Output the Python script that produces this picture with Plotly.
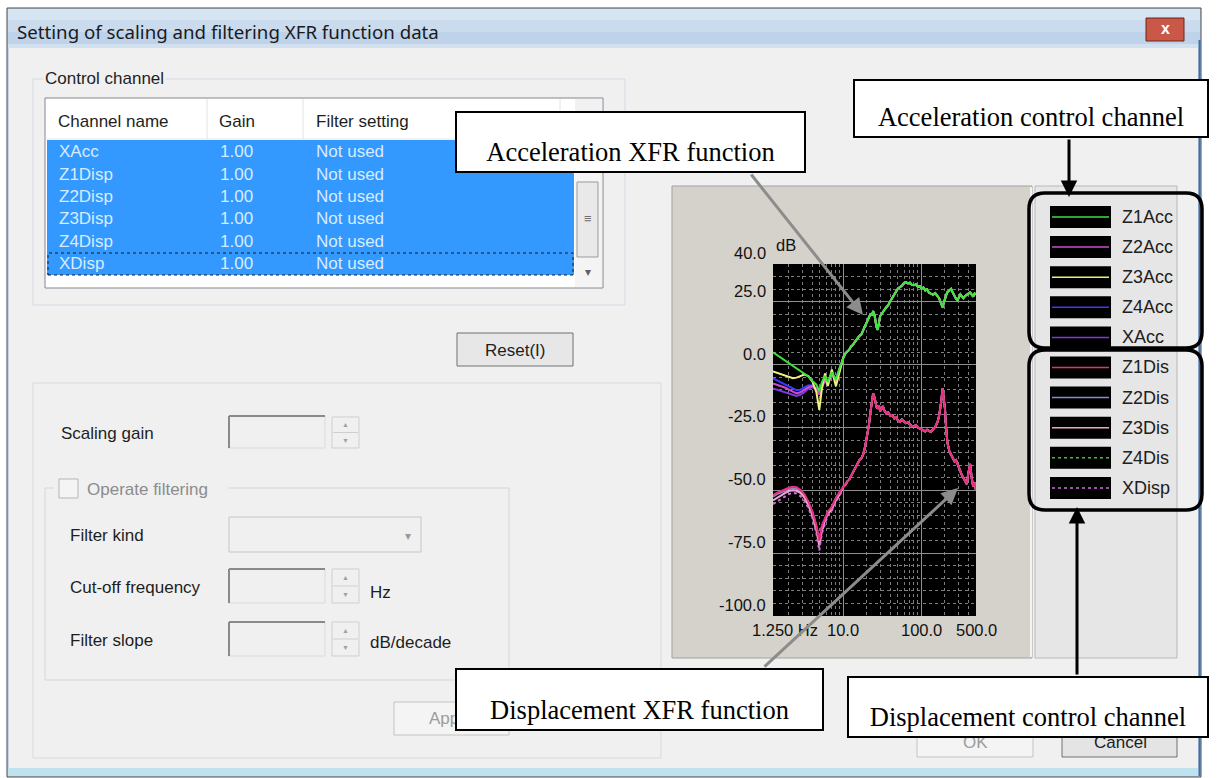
import math
import plotly.graph_objects as go

W, H = 1225, 778
UI = "Liberation Sans"
SERIF = "Liberation Serif"

# ---- curves (Hz, dB) ----
freq_low = [1.25, 1.4, 1.6, 1.8, 2.0, 2.25, 2.5, 2.8, 3.15, 3.55, 4.0, 4.5, 4.9, 5.3, 5.8, 6.3, 7.1, 8.0, 9.0]
freq_high = [10, 10.6, 11.2, 11.8, 12.5, 13.2, 14, 15, 16, 17, 18, 19, 20, 21.2, 22.4, 23.2, 24, 25, 25.5, 26.5,
             27.5, 28.5, 29.5, 31, 32, 33.5, 35.5, 37.5, 40, 42.5, 45, 47.5, 50, 53, 56, 60, 63, 67, 71, 75,
             80, 85, 90, 95, 100, 106, 112, 118, 125, 132, 140, 150, 160, 168, 175, 181, 187, 193, 200, 207,
             215, 228, 240, 252, 265, 277, 290, 302, 315, 330, 345, 362, 380, 400, 420, 440, 460, 480, 500]

z1acc_freq_low = [1.25, 3.55, 4.0, 4.5, 4.9, 5.3, 5.8, 6.3, 7.1, 8.0, 9.0]
z1acc_low = [4.9, -4.7, -6.5, -8, -10.5, -7, -4.5, -7, -3, -6, -1]
z2acc_low = [-7.5, -8, -8.6, -9.2, -10, -10.8, -11.5, -11, -10, -9, -8.5, -9.5, -12, -9, -6.5, -8, -4, -6.5, -1.5]
z3acc_low = [-2.7, -3.2, -3.9, -4.5, -5, -5.4, -5.2, -4.6, -4, -4.6, -6.8, -11, -18, -9.5, -3.5, -8.5, -2, -8.6, -2]
z4acc_low = [-5.5, -6.3, -7.2, -8, -8.8, -9.6, -10.2, -10, -9.2, -8.2, -8.4, -9.5, -10.5, -8, -6, -7.5, -4, -5.5, -1.5]
xacc_low = [-9.5, -10, -10.5, -11, -11.5, -12, -12.5, -12, -11, -9.5, -9, -10, -11.5, -8.5, -6, -8, -3.5, -6, -1]
acc_high = [3, 4.5, 5.3, 5.8, 7.2, 7.8, 9, 10.5, 11.4, 12, 13.5, 15.5, 17, 18.5, 20.3, 19.5, 21.3, 19.8, 17.5, 15,
            13.8, 16.5, 19.3, 20.2, 21, 21.8, 22.8, 23.6, 25.3, 26.8, 28.3, 29.5, 30.3, 30.8, 31.3, 32.5, 32.8, 32.3, 32.6, 31.8,
            31.6, 31.9, 30.9, 31.2, 30.2, 30.6, 29.5, 29.9, 28.6, 28.2, 27.8, 28.4, 27.2, 26.4, 25, 23.5, 22.8, 24.5, 26.6, 27.5,
            28.8, 29.4, 30.1, 28.6, 27.2, 26.2, 25.6, 26.9, 27.9, 27, 26.4, 27.3, 27.6, 28.2, 28.7, 27.5, 27, 28.3, 27.9]

z1disp_low = [-52, -51, -50.3, -49.6, -49, -48.6, -48.8, -49.8, -51.5, -54.5, -58.5, -64, -70, -64, -61, -58.5, -56.5, -53, -50.5]
z2disp_low = [-52.5, -51.5, -50.8, -50, -49.5, -49.2, -49.4, -50.4, -52, -55, -59, -64.5, -70.5, -64.5, -61.5, -59, -57, -53.5, -51]
z3disp_low = [-54, -53, -52, -51, -50.3, -50, -50.2, -51, -52.8, -56, -60, -66, -72, -66, -62, -59.5, -57.5, -54, -51.5]
z4disp_low = [-52.2, -51.2, -50.5, -49.8, -49.2, -48.8, -49, -50, -51.7, -54.7, -58.7, -64.2, -70.2, -64.2, -61.2, -58.7, -56.7, -53.2, -50.7]
xdisp_low = [-55.5, -54.5, -53.5, -52.5, -51.5, -51, -51.3, -52.3, -54, -57, -61, -67, -74, -67, -63, -60, -58, -54.5, -52]
disp_high = [-48.5, -47.8, -46.5, -45.9, -44.5, -43.2, -41.5, -40, -38, -37.2, -35.5, -32.5, -29, -24, -18, -14.5, -11.5, -13, -14.5, -16.8,
             -17.5, -16.2, -18.5, -17.6, -16.5, -18.3, -19.5, -19, -20.5, -20.2, -21.5, -21, -22.3, -22.8, -21.8, -22.9, -23.3, -23, -23.8, -24.4,
             -24.6, -24.1, -25, -25.4, -25.6, -26.2, -26.6, -25.9, -26.2, -26.8, -25.8, -24.8, -23, -20.5, -17, -13, -9.5, -13.5, -17.5, -25,
             -31, -34.5, -36, -37.2, -38.5, -38, -39.5, -41.5, -42.5, -44, -45, -46.5, -47.5, -43, -39.5, -45, -48.5, -47, -50]

channels = ["Z1Acc", "Z2Acc", "Z3Acc", "Z4Acc", "XAcc", "Z1Disp", "Z2Disp", "Z3Disp", "Z4Disp", "XDisp"]
colors = ["#3ee23e", "#d04ad0", "#f0f07a", "#3a3aff", "#7a3ae0", "#e8307a", "#8a8ad8", "#f0a8c8", "#40c040", "#d070e0"]
dashes = ["solid"] * 8 + ["dot", "dot"]
curves = {
    "Z1Acc": (z1acc_freq_low + freq_high, z1acc_low + acc_high),
    "Z2Acc": (freq_low + freq_high, z2acc_low + acc_high),
    "Z3Acc": (freq_low + freq_high, z3acc_low + acc_high),
    "Z4Acc": (freq_low + freq_high, z4acc_low + acc_high),
    "XAcc": (freq_low + freq_high, xacc_low + acc_high),
    "Z1Disp": (freq_low + freq_high, z1disp_low + disp_high),
    "Z2Disp": (freq_low + freq_high, z2disp_low + disp_high),
    "Z3Disp": (freq_low + freq_high, z3disp_low + disp_high),
    "Z4Disp": (freq_low + freq_high, z4disp_low + disp_high),
    "XDisp": (freq_low + freq_high, xdisp_low + disp_high),
}
draw_order = ["Z4Acc", "XAcc", "Z2Acc", "Z3Acc", "Z1Acc", "Z4Disp", "Z2Disp", "Z3Disp", "XDisp", "Z1Disp"]

y_ticks = [40, 25, 0, -25, -50, -75, -100]
x_ticks = [1.25, 10, 100, 500]
x_tick_text = ["1.250 Hz", "10.0", "100.0", "500.0"]
x_minor = [2, 3, 4, 5, 6, 7, 8, 9, 20, 30, 40, 50, 60, 70, 80, 90, 200, 300, 400]

list_rows = ["XAcc", "Z1Disp", "Z2Disp", "Z3Disp", "Z4Disp", "XDisp"]
list_gain = ["1.00"] * 6
list_filter = ["Not used"] * 6


def px(x):
    return x / W


def py(y):
    return 1 - y / H


shapes = []
annos = []


def rect(x0, y0, x1, y1, fill=None, line=None, lw=1, dash=None, layer="below"):
    d = dict(type="rect", xref="paper", yref="paper", x0=px(x0), x1=px(x1), y0=py(y1), y1=py(y0),
             layer=layer, line=dict(width=lw if line else 0, color=line or "rgba(0,0,0,0)"))
    if dash:
        d["line"]["dash"] = dash
    if fill:
        d["fillcolor"] = fill
    shapes.append(d)


def seg(x0, y0, x1, y1, color, lw=1, dash=None, layer="below"):
    d = dict(type="line", xref="paper", yref="paper", x0=px(x0), x1=px(x1), y0=py(y0), y1=py(y1),
             layer=layer, line=dict(color=color, width=lw))
    if dash:
        d["line"]["dash"] = dash
    shapes.append(d)


def rrect(x0, y0, x1, y1, r, color, lw):
    Y0, Y1 = py(y0), py(y1)
    rx, ry = r / W, r / H
    X0, X1 = px(x0), px(x1)
    path = (f"M {X0 + rx},{Y0} L {X1 - rx},{Y0} Q {X1},{Y0} {X1},{Y0 - ry} L {X1},{Y1 + ry} "
            f"Q {X1},{Y1} {X1 - rx},{Y1} L {X0 + rx},{Y1} Q {X0},{Y1} {X0},{Y1 + ry} "
            f"L {X0},{Y0 - ry} Q {X0},{Y0} {X0 + rx},{Y0} Z")
    shapes.append(dict(type="path", xref="paper", yref="paper", path=path, layer="above",
                       line=dict(color=color, width=lw)))


def text(x, y, s, size=17, color="#1e1e1e", anchor="left", family=UI, **kw):
    annos.append(dict(xref="paper", yref="paper", x=px(x), y=py(y), text=s, showarrow=False,
                      xanchor=anchor, yanchor="middle", font=dict(family=family, size=size, color=color), **kw))


def sunken_box(x0, y0, x1, y1):
    rect(x0, y0, x1, y1, fill="#f0f0f0", line="#dadada")
    seg(x0, y0, x1, y0, "#8a8a8a", 2)
    seg(x0, y0, x0, y1, "#8a8a8a", 2)


def spinner(x0, y0, x1, y1):
    rect(x0, y0, x1, y1, fill="#f0f0f0", line="#cfcfcf")
    ym = (y0 + y1) / 2
    seg(x0 + 1, ym, x1 - 1, ym, "#cfcfcf")
    text((x0 + x1) / 2, (y0 + ym) / 2, "▲", size=7, color="#a0a0a0", anchor="center")
    text((x0 + x1) / 2, (ym + y1) / 2, "▼", size=7, color="#a0a0a0", anchor="center")


# ---- window chrome ----
rect(7, 8, 1201, 777, fill="#c4d5ea", line="#4a4a4a")
for (a, b, c) in [(9, 20, "#d7e4f2"), (20, 32, "#cadbee"), (32, 44, "#bed2ea"), (44, 48, "#d3e0f0")]:
    rect(8, a, 1200, b, fill=c)
rect(9, 48, 1198, 768, fill="#f0f0f0")
rect(8, 768, 1199, 776, fill="#bfe3ee")
seg(1199.5, 40, 1199.5, 776, "#3f6fa8", 2)
text(15, 32, "Setting of scaling and filtering XFR function data", size=18.7, family="Noto Sans", color="#1a1a1a")
rect(1146, 18, 1184, 41, fill="#c95848", line="#6e2418")
text(1165, 29, "<b>x</b>", size=16, color="white", anchor="center")

# ---- control channel group ----
rect(33, 79, 625, 305, line="#d3dbe2")
text(43, 78, "Control channel", bgcolor="#f0f0f0")
rect(45, 98, 603, 288, fill="white", line="#828790")
seg(46, 139, 575, 139, "#e5e5e5")
for xs in [207, 303, 560]:
    seg(xs, 99, xs, 139, "#e2e2e2")
rect(575, 99, 602, 139, fill="#f1f1f1")
text(56, 121, "Channel name")
text(217, 121, "Gain")
text(314, 121, "Filter setting")
rect(47, 140, 574, 275, fill="#3399ff")
rect(48, 253, 573, 275, line="#1a1a1a", lw=1, dash="dot")
for i, name in enumerate(list_rows):
    yy = 152 + i * 22.3
    text(57, yy, name, color="#d8ecff")
    text(218, yy, list_gain[i], color="#d8ecff")
    text(314, yy, list_filter[i], color="#d8ecff")
rect(575, 140, 602, 287, fill="#f4f4f4")
rect(577, 182, 598, 257, fill="#e9e9e9", line="#9b9b9b")
text(587.5, 219, "≡", size=13, color="#707070", anchor="center")
text(588, 272, "▾", size=12, color="#606060", anchor="center")

rect(457, 333, 573, 366, fill="#e7e7e7", line="#707070")
text(515, 350, "Reset(I)", anchor="center")

# ---- lower settings panel ----
rect(33, 383, 661, 758, line="#d9d9d9")
text(59, 433, "Scaling gain")
sunken_box(229, 416, 325, 448)
spinner(332, 417, 359, 448)

rect(45, 488, 509, 680, line="#d6d6d6")
rect(54, 482, 228, 494, fill="#f0f0f0")
rect(59, 479, 78, 498, fill="#f4f4f4", line="#b5b5b5")
text(85, 489, "Operate filtering", color="#8c8c8c")
text(68, 535, "Filter kind")
rect(229, 517, 421, 552, fill="#f0f0f0", line="#c6c6c6")
text(408, 536, "▾", size=12, color="#9a9a9a", anchor="center")
text(68, 587, "Cut-off frequency")
sunken_box(229, 569, 325, 603)
spinner(332, 569, 359, 603)
text(368, 592, "Hz")
text(68, 640, "Filter slope")
sunken_box(229, 622, 325, 656)
spinner(332, 622, 359, 656)
text(368, 642, "dB/decade")

rect(394, 702, 509, 735, fill="#f4f4f4", line="#c3c3c3")
text(451, 718, "Apply", color="#9c9c9c", anchor="center")
rect(917, 727, 1033, 757, fill="#f4f4f4", line="#c3c3c3")
text(975, 742, "OK", color="#9c9c9c", anchor="center")
rect(1062, 727, 1177, 757, fill="#e4e4e4", line="#707070")
text(1120, 742, "Cancel", anchor="center")

# ---- chart panel and legend panel ----
rect(672, 186, 1032, 658, fill="#d5d2cb", line="#a2a2a2")
seg(1031, 187, 1031, 657, "#f4f4f4", 2)
rect(1035, 186, 1177, 658, fill="#e6e6e6", line="#b9b9b9")
shapes.append(dict(type="rect", xref="x domain", yref="y domain", x0=0, x1=1, y0=0, y1=1,
                   fillcolor="black", line=dict(width=0), layer="below"))

for i, name in enumerate(channels):
    cy = 217 + i * 30.1
    rect(1050, cy - 11, 1111, cy + 11, fill="black")
    seg(1052, cy, 1109, cy, colors[i], 1.5, dash=dashes[i])
    text(1120, cy, name[:5], size=18, color="#202020")
rrect(1029, 193, 1202, 348, 16, "black", 3.5)
rrect(1029, 350, 1202, 510, 16, "black", 3.5)

fig = go.Figure()
for name in draw_order:
    i = channels.index(name)
    f, v = curves[name]
    # displacement channels ride on the overlaid axis (same scale) that carries the decade grid
    xa = "x2" if "Disp" in name else "x"
    fig.add_trace(go.Scatter(x=f, y=v, mode="lines", name=name, hoverinfo="skip", showlegend=False,
                             xaxis=xa, yaxis="y",
                             line=dict(color=colors[i], width=2, dash=dashes[i])))

# axis labels drawn like the instrument software (above gridlines)
for v in y_ticks:
    annos.append(dict(xref="x domain", yref="y", x=0, y=v, text=f"{v:.1f}", showarrow=False,
                      xanchor="right", yanchor="bottom", xshift=-5,
                      font=dict(family=UI, size=16.5, color="#111")))
annos.append(dict(xref="x domain", yref="y", x=0, y=40, text="dB", showarrow=False, xanchor="left",
                  yanchor="bottom", xshift=1, yshift=8, font=dict(family=UI, size=16.5, color="#111")))
for v, t in zip(x_ticks, x_tick_text):
    annos.append(dict(xref="x", yref="y domain", x=math.log10(v), y=0, text=t, showarrow=False,
                      xanchor="left" if v == x_ticks[0] else "center", xshift=-23 if v == x_ticks[0] else 0,
                      yanchor="top", yshift=-3, font=dict(family=UI, size=16.5, color="#111")))

# ---- callouts ----
def arrow(x0, y0, x1, y1, color):
    # tail at (x0, y0), head at (x1, y1), in page pixels
    annos.append(dict(xref="paper", yref="paper", axref="pixel", ayref="pixel", x=px(x1), y=py(y1),
                      ax=x0 - x1, ay=y0 - y1, text="", showarrow=True, arrowhead=2, arrowsize=1.1,
                      arrowwidth=3, arrowcolor=color, standoff=0, startstandoff=0))


def callout(x0, y0, x1, y1, s):
    annos.append(dict(xref="paper", yref="paper", x=px((x0 + x1) / 2), y=py((y0 + y1) / 2), text=s,
                      showarrow=False, xanchor="center", yanchor="middle", width=x1 - x0 - 12,
                      height=y1 - y0 - 12, valign="bottom", bgcolor="white", bordercolor="black",
                      borderwidth=2, borderpad=4, font=dict(family=SERIF, size=26.5, color="black")))


arrow(750, 173, 863, 315, "#8c8c8c")
arrow(763, 668, 958, 488, "#8c8c8c")
arrow(1069, 138, 1069, 197, "black")
arrow(1077, 676, 1077, 507, "black")
callout(455, 111, 806, 173, "Acceleration XFR function")
callout(853, 79, 1209, 138, "Acceleration control channel")
callout(455, 668, 824, 731, "Displacement XFR function")
callout(847, 676, 1209, 738, "Displacement control channel")

xrange = [math.log10(1.25), math.log10(500)]
xdom = [px(773), px(976)]
fig.update_layout(
    width=W, height=H, autosize=False, margin=dict(l=0, r=0, t=0, b=0),
    paper_bgcolor="white", plot_bgcolor="black", showlegend=False,
    shapes=shapes, annotations=annos,
    xaxis=dict(type="log", domain=xdom, range=xrange, tickvals=x_minor, showticklabels=False, ticks="",
               showgrid=True, gridcolor="#7d7d7d", griddash="dot", gridwidth=1,
               zeroline=False, showline=False, fixedrange=True),
    xaxis2=dict(type="log", domain=xdom, range=xrange, overlaying="x", anchor="y", tickvals=[10, 100],
                showticklabels=False, ticks="", showgrid=True, gridcolor="#8f8f8f", gridwidth=1,
                zeroline=False, showline=False, fixedrange=True),
    yaxis=dict(domain=[py(616), py(264)], range=[-100, 40], tickvals=[-75, -50, -25, 0, 25],
               showticklabels=False, ticks="", showgrid=True, gridcolor="#8f8f8f", gridwidth=1,
               zeroline=False, showline=False, fixedrange=True,
               minor=dict(dtick=5, showgrid=True, gridcolor="#7d7d7d", griddash="dot", gridwidth=1, ticks="")),
)

fig.write_html("out.html", config={"displayModeBar": False},
               post_script="document.body.style.margin='0';document.body.style.overflow='hidden';")
